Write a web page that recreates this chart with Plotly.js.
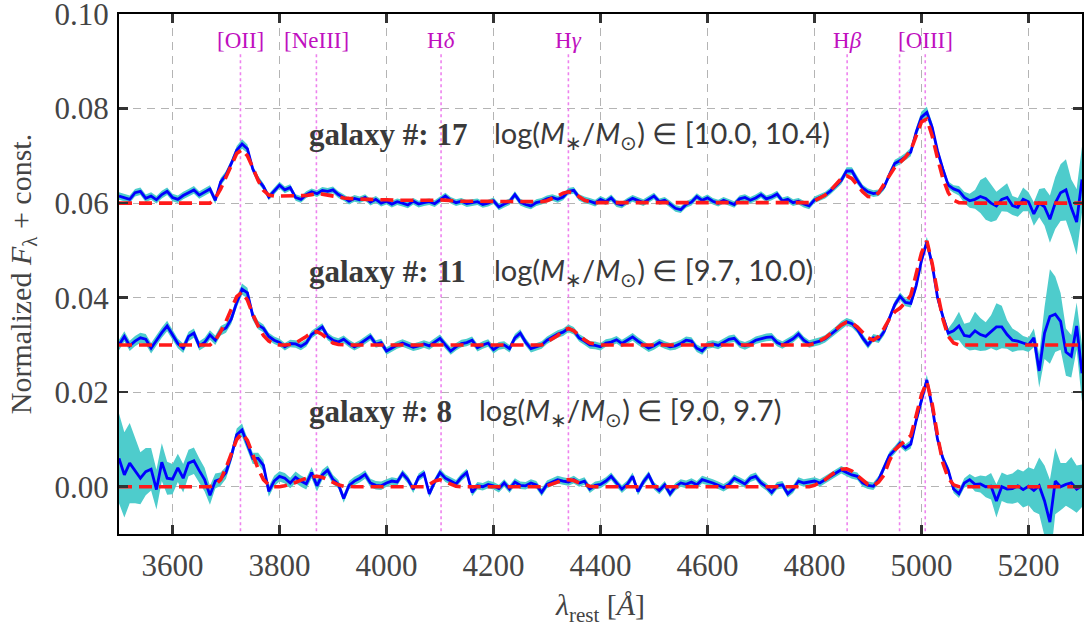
<!DOCTYPE html>
<html>
<head>
<meta charset="utf-8">
<script src="https://cdn.plot.ly/plotly-3.0.1.min.js"></script>
<style>html,body{margin:0;padding:0;background:#fff;}#chart{width:1086px;height:630px;}</style>
</head>
<body>
<div id="chart"></div>
<script>
// Rest-frame wavelength grid [Å]
const wavelength = [
3500,3510,3520,3530,3540,3550,3560,3570,3580,3590,
3600,3610,3620,3630,3640,3650,3660,3670,3680,3690,
3700,3710,3720,3730,3740,3750,3760,3770,3780,3790,
3800,3810,3820,3830,3840,3850,3860,3870,3880,3890,
3900,3910,3920,3930,3940,3950,3960,3970,3980,3990,
4000,4010,4020,4030,4040,4050,4060,4070,4080,4090,
4100,4110,4120,4130,4140,4150,4160,4170,4180,4190,
4200,4210,4220,4230,4240,4250,4260,4270,4280,4290,
4300,4310,4320,4330,4340,4350,4360,4370,4380,4390,
4400,4410,4420,4430,4440,4450,4460,4470,4480,4490,
4500,4510,4520,4530,4540,4550,4560,4570,4580,4590,
4600,4610,4620,4630,4640,4650,4660,4670,4680,4690,
4700,4710,4720,4730,4740,4750,4760,4770,4780,4790,
4800,4810,4820,4830,4840,4850,4860,4870,4880,4890,
4900,4910,4920,4930,4940,4950,4960,4970,4980,4990,
5000,5010,5020,5030,5040,5050,5060,5070,5080,5090,
5100,5110,5120,5130,5140,5150,5160,5170,5180,5190,
5200,5210,5220,5230,5240,5250,5260,5270,5280,5290,
5300];

// galaxy #17 (offset +0.06)
const flux17 = [
0.0615,0.0612,0.0608,0.0622,0.0625,0.0610,0.0615,0.0607,0.0618,0.0625,
0.0612,0.0608,0.0616,0.0622,0.0628,0.0617,0.0624,0.0630,0.0606,0.0645,
0.0660,0.0684,0.0712,0.0725,0.0715,0.0672,0.0650,0.0635,0.0613,0.0625,
0.0638,0.0628,0.0633,0.0612,0.0608,0.0618,0.0624,0.0620,0.0627,0.0625,
0.0628,0.0618,0.0612,0.0604,0.0610,0.0607,0.0612,0.0602,0.0608,0.0600,
0.0604,0.0598,0.0603,0.0600,0.0596,0.0604,0.0598,0.0601,0.0603,0.0599,
0.0608,0.0615,0.0606,0.0601,0.0604,0.0599,0.0601,0.0603,0.0597,0.0600,
0.0605,0.0592,0.0598,0.0603,0.0618,0.0602,0.0597,0.0594,0.0601,0.0604,
0.0609,0.0612,0.0608,0.0613,0.0625,0.0627,0.0612,0.0607,0.0604,0.0600,
0.0608,0.0603,0.0611,0.0599,0.0596,0.0604,0.0610,0.0605,0.0601,0.0608,
0.0615,0.0603,0.0606,0.0598,0.0589,0.0586,0.0597,0.0602,0.0614,0.0606,
0.0611,0.0604,0.0600,0.0606,0.0602,0.0597,0.0609,0.0612,0.0606,0.0611,
0.0618,0.0609,0.0613,0.0619,0.0605,0.0608,0.0601,0.0604,0.0598,0.0594,
0.0607,0.0612,0.0617,0.0626,0.0636,0.0648,0.0668,0.0668,0.0648,0.0632,
0.0624,0.0620,0.0622,0.0634,0.0660,0.0684,0.0690,0.0698,0.0708,0.0750,
0.0782,0.0792,0.0760,0.0710,0.0672,0.0638,0.0630,0.0626,0.0612,0.0605,
0.0608,0.0614,0.0610,0.0600,0.0594,0.0608,0.0612,0.0595,0.0591,0.0608,
0.0603,0.0577,0.0600,0.0592,0.0566,0.0600,0.0622,0.0628,0.0590,0.0560,
0.0650];
const err17 = [
0.0008,0.0008,0.0008,0.0008,0.0008,0.0008,0.0008,0.0008,0.0008,0.0008,
0.0008,0.0008,0.0008,0.0008,0.0008,0.0008,0.0008,0.0008,0.0008,0.0008,
0.0008,0.0008,0.0009,0.0010,0.0009,0.0008,0.0008,0.0007,0.0007,0.0007,
0.0007,0.0007,0.0007,0.0007,0.0007,0.0007,0.0007,0.0007,0.0007,0.0007,
0.0007,0.0007,0.0007,0.0007,0.0007,0.0007,0.0007,0.0007,0.0007,0.0007,
0.0007,0.0007,0.0007,0.0007,0.0007,0.0007,0.0007,0.0007,0.0007,0.0007,
0.0007,0.0007,0.0007,0.0007,0.0007,0.0007,0.0007,0.0007,0.0007,0.0007,
0.0007,0.0007,0.0007,0.0007,0.0007,0.0007,0.0007,0.0007,0.0007,0.0007,
0.0007,0.0007,0.0007,0.0007,0.0007,0.0007,0.0007,0.0007,0.0007,0.0007,
0.0007,0.0007,0.0007,0.0007,0.0007,0.0007,0.0007,0.0007,0.0007,0.0007,
0.0007,0.0007,0.0007,0.0007,0.0007,0.0007,0.0007,0.0007,0.0007,0.0007,
0.0007,0.0007,0.0007,0.0007,0.0007,0.0007,0.0007,0.0007,0.0007,0.0007,
0.0007,0.0007,0.0007,0.0007,0.0007,0.0007,0.0007,0.0007,0.0007,0.0007,
0.0007,0.0007,0.0007,0.0007,0.0007,0.0008,0.0008,0.0008,0.0008,0.0007,
0.0007,0.0007,0.0007,0.0007,0.0008,0.0008,0.0008,0.0008,0.0009,0.0010,
0.0012,0.0012,0.0010,0.0009,0.0008,0.0008,0.0008,0.0010,0.0012,0.0015,
0.0020,0.0035,0.0045,0.0040,0.0030,0.0025,0.0030,0.0020,0.0020,0.0025,
0.0020,0.0025,0.0030,0.0040,0.0050,0.0055,0.0060,0.0065,0.0060,0.0070,
0.0070];
const fit17 = [
0.0600,0.0600,0.0600,0.0600,0.0600,0.0600,0.0600,0.0600,0.0600,0.0600,
0.0600,0.0600,0.0600,0.0600,0.0600,0.0600,0.0600,0.0600,0.0610,0.0630,
0.0655,0.0680,0.0705,0.0713,0.0700,0.0675,0.0648,0.0627,0.0617,0.0615,
0.0615,0.0615,0.0615,0.0615,0.0615,0.0616,0.0618,0.0620,0.0619,0.0617,
0.0614,0.0612,0.0611,0.0610,0.0609,0.0609,0.0608,0.0608,0.0607,0.0607,
0.0607,0.0606,0.0606,0.0606,0.0606,0.0605,0.0605,0.0605,0.0605,0.0606,
0.0607,0.0606,0.0605,0.0604,0.0604,0.0604,0.0604,0.0604,0.0603,0.0603,
0.0603,0.0603,0.0603,0.0603,0.0603,0.0603,0.0603,0.0603,0.0603,0.0603,
0.0605,0.0609,0.0615,0.0621,0.0624,0.0621,0.0613,0.0606,0.0603,0.0601,
0.0601,0.0601,0.0601,0.0601,0.0601,0.0601,0.0601,0.0601,0.0601,0.0601,
0.0601,0.0601,0.0601,0.0601,0.0601,0.0601,0.0601,0.0601,0.0601,0.0601,
0.0601,0.0601,0.0601,0.0601,0.0601,0.0601,0.0601,0.0601,0.0601,0.0601,
0.0601,0.0601,0.0601,0.0601,0.0601,0.0601,0.0601,0.0601,0.0601,0.0601,
0.0605,0.0610,0.0617,0.0627,0.0640,0.0652,0.0658,0.0652,0.0638,0.0624,
0.0614,0.0613,0.0622,0.0640,0.0660,0.0676,0.0686,0.0697,0.0712,0.0740,
0.0772,0.0778,0.0742,0.0695,0.0652,0.0622,0.0606,0.0601,0.0600,0.0600,
0.0600,0.0600,0.0600,0.0600,0.0600,0.0600,0.0600,0.0600,0.0600,0.0600,
0.0600,0.0600,0.0600,0.0600,0.0600,0.0600,0.0600,0.0600,0.0600,0.0600,
0.0600];

// galaxy #11 (offset +0.03)
const flux11 = [
0.0300,0.0318,0.0298,0.0308,0.0315,0.0312,0.0293,0.0310,0.0326,0.0340,
0.0322,0.0303,0.0293,0.0318,0.0325,0.0298,0.0305,0.0321,0.0310,0.0330,
0.0336,0.0355,0.0390,0.0418,0.0410,0.0362,0.0342,0.0335,0.0318,0.0310,
0.0305,0.0296,0.0303,0.0302,0.0297,0.0304,0.0322,0.0330,0.0338,0.0318,
0.0310,0.0306,0.0312,0.0303,0.0296,0.0302,0.0310,0.0318,0.0302,0.0305,
0.0287,0.0293,0.0300,0.0304,0.0300,0.0295,0.0298,0.0302,0.0298,0.0306,
0.0314,0.0300,0.0287,0.0296,0.0303,0.0305,0.0310,0.0294,0.0300,0.0304,
0.0290,0.0298,0.0300,0.0292,0.0315,0.0325,0.0306,0.0292,0.0296,0.0300,
0.0310,0.0316,0.0323,0.0327,0.0335,0.0330,0.0315,0.0308,0.0300,0.0299,
0.0296,0.0304,0.0306,0.0311,0.0303,0.0310,0.0317,0.0308,0.0300,0.0293,
0.0298,0.0305,0.0300,0.0296,0.0298,0.0303,0.0310,0.0308,0.0293,0.0287,
0.0300,0.0302,0.0299,0.0306,0.0312,0.0314,0.0302,0.0298,0.0303,0.0310,
0.0313,0.0316,0.0317,0.0305,0.0300,0.0306,0.0313,0.0323,0.0310,0.0302,
0.0305,0.0308,0.0313,0.0322,0.0331,0.0342,0.0349,0.0345,0.0333,0.0315,
0.0300,0.0315,0.0312,0.0328,0.0355,0.0385,0.0403,0.0390,0.0388,0.0425,
0.0479,0.0518,0.0470,0.0400,0.0360,0.0325,0.0330,0.0340,0.0320,0.0318,
0.0330,0.0322,0.0318,0.0328,0.0338,0.0338,0.0322,0.0310,0.0308,0.0304,
0.0300,0.0315,0.0245,0.0325,0.0360,0.0365,0.0350,0.0285,0.0276,0.0340,
0.0240];
const err11 = [
0.0011,0.0011,0.0011,0.0011,0.0011,0.0011,0.0011,0.0011,0.0011,0.0011,
0.0010,0.0010,0.0010,0.0010,0.0010,0.0010,0.0010,0.0010,0.0010,0.0010,
0.0010,0.0010,0.0011,0.0012,0.0011,0.0010,0.0009,0.0008,0.0008,0.0008,
0.0008,0.0008,0.0008,0.0008,0.0008,0.0008,0.0008,0.0008,0.0008,0.0008,
0.0008,0.0008,0.0008,0.0008,0.0008,0.0008,0.0008,0.0008,0.0008,0.0008,
0.0008,0.0008,0.0008,0.0008,0.0008,0.0008,0.0008,0.0008,0.0008,0.0008,
0.0008,0.0008,0.0008,0.0008,0.0008,0.0008,0.0008,0.0008,0.0008,0.0008,
0.0008,0.0008,0.0008,0.0008,0.0008,0.0008,0.0008,0.0008,0.0008,0.0008,
0.0008,0.0008,0.0008,0.0008,0.0008,0.0008,0.0008,0.0008,0.0008,0.0008,
0.0008,0.0008,0.0008,0.0008,0.0008,0.0008,0.0008,0.0008,0.0008,0.0008,
0.0008,0.0008,0.0008,0.0008,0.0008,0.0008,0.0008,0.0008,0.0008,0.0008,
0.0008,0.0008,0.0008,0.0008,0.0008,0.0008,0.0008,0.0008,0.0008,0.0008,
0.0008,0.0008,0.0008,0.0008,0.0008,0.0008,0.0008,0.0008,0.0008,0.0008,
0.0008,0.0008,0.0008,0.0008,0.0008,0.0008,0.0008,0.0008,0.0008,0.0008,
0.0008,0.0008,0.0008,0.0008,0.0008,0.0008,0.0008,0.0008,0.0009,0.0009,
0.0010,0.0011,0.0010,0.0009,0.0009,0.0010,0.0020,0.0030,0.0025,0.0030,
0.0040,0.0035,0.0030,0.0035,0.0050,0.0045,0.0030,0.0025,0.0020,0.0015,
0.0015,0.0020,0.0035,0.0055,0.0100,0.0080,0.0060,0.0050,0.0045,0.0050,
0.0060];
const fit11 = [
0.0300,0.0300,0.0300,0.0300,0.0300,0.0300,0.0300,0.0300,0.0300,0.0300,
0.0300,0.0300,0.0300,0.0300,0.0300,0.0300,0.0300,0.0300,0.0310,0.0328,
0.0350,0.0378,0.0402,0.0412,0.0395,0.0365,0.0340,0.0320,0.0308,0.0302,
0.0300,0.0300,0.0301,0.0304,0.0310,0.0318,0.0326,0.0328,0.0322,0.0312,
0.0304,0.0301,0.0300,0.0300,0.0300,0.0300,0.0300,0.0300,0.0300,0.0300,
0.0300,0.0300,0.0300,0.0300,0.0300,0.0300,0.0300,0.0300,0.0300,0.0300,
0.0301,0.0301,0.0300,0.0300,0.0300,0.0300,0.0300,0.0300,0.0300,0.0300,
0.0300,0.0300,0.0300,0.0300,0.0300,0.0300,0.0300,0.0300,0.0300,0.0300,
0.0306,0.0312,0.0320,0.0330,0.0335,0.0330,0.0320,0.0311,0.0304,0.0301,
0.0300,0.0300,0.0300,0.0300,0.0300,0.0300,0.0300,0.0300,0.0300,0.0300,
0.0300,0.0300,0.0300,0.0300,0.0300,0.0300,0.0300,0.0300,0.0300,0.0300,
0.0300,0.0300,0.0300,0.0300,0.0300,0.0300,0.0300,0.0300,0.0300,0.0300,
0.0300,0.0300,0.0300,0.0300,0.0300,0.0300,0.0300,0.0300,0.0300,0.0300,
0.0303,0.0308,0.0315,0.0324,0.0333,0.0342,0.0348,0.0346,0.0338,0.0326,
0.0315,0.0310,0.0318,0.0335,0.0355,0.0370,0.0378,0.0390,0.0405,0.0450,
0.0495,0.0520,0.0472,0.0410,0.0355,0.0318,0.0304,0.0300,0.0300,0.0300,
0.0300,0.0300,0.0300,0.0300,0.0300,0.0300,0.0300,0.0300,0.0300,0.0300,
0.0300,0.0300,0.0300,0.0300,0.0300,0.0300,0.0300,0.0300,0.0300,0.0300,
0.0300];

// galaxy #8 (offset 0)
const flux8 = [
0.0060,0.0025,0.0050,0.0035,0.0018,0.0032,0.0037,-0.0006,0.0052,0.0018,
0.0016,0.0040,0.0018,0.0050,0.0055,0.0034,0.0015,-0.0018,0.0012,0.0016,
0.0030,0.0065,0.0110,0.0120,0.0090,0.0060,0.0060,0.0045,-0.0010,0.0012,
0.0022,0.0018,0.0008,0.0020,0.0012,0.0006,0.0030,0.0002,0.0025,0.0035,
0.0015,0.0005,-0.0025,0.0003,0.0012,0.0018,0.0026,0.0008,0.0003,0.0002,
0.0008,0.0012,0.0010,0.0028,0.0015,-0.0005,0.0020,0.0028,-0.0015,0.0010,
0.0030,0.0018,0.0012,0.0006,0.0020,0.0030,-0.0012,0.0002,0.0000,0.0005,
0.0002,-0.0004,0.0008,-0.0005,0.0010,0.0003,0.0002,0.0008,0.0004,-0.0012,
0.0005,0.0010,0.0015,0.0012,0.0010,0.0015,0.0008,0.0012,-0.0005,0.0003,
0.0005,0.0012,0.0022,0.0008,-0.0005,0.0005,0.0022,-0.0010,0.0010,0.0025,
0.0002,-0.0008,0.0004,-0.0015,0.0000,0.0008,0.0005,0.0010,0.0004,0.0015,
0.0012,0.0008,0.0003,-0.0002,0.0005,0.0018,0.0012,0.0006,0.0018,0.0022,
0.0008,0.0000,-0.0012,0.0002,0.0004,-0.0015,-0.0005,0.0012,0.0008,0.0010,
0.0012,0.0008,0.0015,0.0022,0.0028,0.0036,0.0030,0.0025,0.0022,0.0008,
0.0003,0.0001,0.0015,0.0040,0.0066,0.0078,0.0092,0.0082,0.0090,0.0140,
0.0184,0.0226,0.0168,0.0100,0.0060,0.0035,-0.0005,-0.0015,0.0008,0.0015,
0.0005,0.0006,0.0000,0.0001,-0.0030,0.0000,-0.0005,-0.0004,0.0002,-0.0006,
0.0001,-0.0008,0.0002,-0.0030,-0.0075,0.0012,0.0000,0.0005,0.0008,-0.0005,
0.0002];
const err8 = [
0.0095,0.0090,0.0085,0.0070,0.0055,0.0050,0.0045,0.0042,0.0040,0.0035,
0.0032,0.0030,0.0030,0.0028,0.0028,0.0026,0.0025,0.0020,0.0016,0.0014,
0.0013,0.0012,0.0013,0.0014,0.0013,0.0012,0.0012,0.0012,0.0011,0.0011,
0.0011,0.0011,0.0011,0.0012,0.0012,0.0012,0.0012,0.0012,0.0011,0.0010,
0.0010,0.0009,0.0009,0.0009,0.0009,0.0009,0.0009,0.0009,0.0009,0.0009,
0.0008,0.0008,0.0008,0.0008,0.0008,0.0008,0.0008,0.0008,0.0008,0.0008,
0.0008,0.0008,0.0008,0.0008,0.0008,0.0008,0.0008,0.0008,0.0008,0.0008,
0.0008,0.0008,0.0008,0.0008,0.0008,0.0008,0.0008,0.0008,0.0008,0.0008,
0.0008,0.0008,0.0008,0.0008,0.0008,0.0008,0.0008,0.0008,0.0008,0.0008,
0.0008,0.0008,0.0008,0.0008,0.0008,0.0008,0.0008,0.0008,0.0008,0.0008,
0.0008,0.0008,0.0008,0.0008,0.0008,0.0008,0.0008,0.0008,0.0008,0.0008,
0.0008,0.0008,0.0008,0.0008,0.0008,0.0008,0.0008,0.0008,0.0008,0.0008,
0.0008,0.0008,0.0008,0.0008,0.0008,0.0008,0.0008,0.0008,0.0008,0.0008,
0.0008,0.0008,0.0008,0.0008,0.0008,0.0008,0.0008,0.0008,0.0008,0.0008,
0.0008,0.0008,0.0008,0.0008,0.0008,0.0008,0.0008,0.0008,0.0009,0.0010,
0.0011,0.0011,0.0010,0.0009,0.0008,0.0008,0.0008,0.0009,0.0010,0.0012,
0.0015,0.0018,0.0022,0.0028,0.0035,0.0030,0.0030,0.0032,0.0035,0.0038,
0.0040,0.0045,0.0060,0.0075,0.0090,0.0070,0.0050,0.0045,0.0055,0.0050,
0.0045];
const fit8 = [
0.0000,0.0000,0.0000,0.0000,0.0000,0.0000,0.0000,0.0000,0.0000,0.0000,
0.0000,0.0000,0.0000,0.0000,0.0000,0.0000,0.0000,0.0000,0.0004,0.0015,
0.0040,0.0070,0.0100,0.0113,0.0098,0.0068,0.0038,0.0015,0.0004,0.0000,
0.0000,0.0002,0.0005,0.0009,0.0014,0.0018,0.0021,0.0022,0.0020,0.0015,
0.0009,0.0004,0.0001,0.0000,0.0000,0.0000,0.0000,0.0000,0.0000,0.0000,
0.0000,0.0000,0.0000,0.0000,0.0000,0.0000,0.0000,0.0000,0.0005,0.0012,
0.0015,0.0011,0.0005,0.0001,0.0000,0.0000,0.0000,0.0000,0.0000,0.0000,
0.0000,0.0000,0.0000,0.0000,0.0000,0.0000,0.0000,0.0000,0.0000,0.0000,
0.0002,0.0006,0.0011,0.0014,0.0015,0.0013,0.0008,0.0004,0.0001,0.0000,
0.0000,0.0000,0.0000,0.0000,0.0000,0.0000,0.0000,0.0000,0.0000,0.0000,
0.0000,0.0000,0.0000,0.0000,0.0000,0.0000,0.0000,0.0000,0.0000,0.0000,
0.0000,0.0000,0.0000,0.0000,0.0000,0.0000,0.0000,0.0000,0.0000,0.0000,
0.0000,0.0000,0.0000,0.0000,0.0000,0.0000,0.0000,0.0000,0.0000,0.0000,
0.0003,0.0008,0.0015,0.0024,0.0032,0.0037,0.0038,0.0033,0.0024,0.0013,
0.0005,0.0002,0.0010,0.0025,0.0055,0.0078,0.0088,0.0096,0.0108,0.0150,
0.0195,0.0222,0.0175,0.0108,0.0050,0.0018,0.0004,0.0000,0.0000,0.0000,
0.0000,0.0000,0.0000,0.0000,0.0000,0.0000,0.0000,0.0000,0.0000,0.0000,
0.0000,0.0000,0.0000,0.0000,0.0000,0.0000,0.0000,0.0000,0.0000,0.0000,
0.0000];

// Emission lines
const lineWave = [3727, 3869, 4102, 4340, 4861, 4959, 5007];
const labelWave = [3727, 3869, 4102, 4340, 4861, 5007];
const labelText = ['[OII]', '[NeIII]', 'H<i>δ</i>', 'H<i>γ</i>', 'H<i>β</i>', '[OIII]'];

// Galaxy annotations
const galaxyIds = ['17', '11', '8'];
const massRanges = ['[10.0, 10.4)', '[9.7, 10.0)', '[9.0, 9.7)'];

const xTicks = [3600, 3800, 4000, 4200, 4400, 4600, 4800, 5000, 5200];
const yTicks = [0.00, 0.02, 0.04, 0.06, 0.08, 0.10];

const SERIF = 'Times New Roman';
const SANS = 'Lato';

const traces = [];
// dotted emission-line markers
const lx = [], ly = [];
lineWave.forEach(w => { lx.push(w, w, null); ly.push(0.0915, -0.01, null); });
traces.push({x: lx, y: ly, mode: 'lines', line: {color: '#ee82ee', width: 1.6, dash: 'dot'}, hoverinfo: 'skip'});

const spectra = [[flux17, err17, fit17], [flux11, err11, fit11], [flux8, err8, fit8]];
spectra.forEach(([f, e]) => {
  traces.push({x: wavelength, y: f.map((v, i) => v - e[i]), mode: 'lines', line: {width: 0, color: 'rgba(0,0,0,0)'}, hoverinfo: 'skip'});
  traces.push({x: wavelength, y: f.map((v, i) => v + e[i]), mode: 'lines', line: {width: 0, color: 'rgba(0,0,0,0)'}, fill: 'tonexty', fillcolor: 'rgb(78,204,204)', hoverinfo: 'skip'});
});
spectra.forEach(([f]) => {
  traces.push({x: wavelength, y: f, mode: 'lines', line: {color: '#0000ff', width: 2.8}});
});
spectra.forEach(([, , m]) => {
  traces.push({x: wavelength, y: m, mode: 'lines', line: {color: '#ff1a1a', width: 3.6, dash: '13px,7px'}});
});

const annotations = [];
labelWave.forEach((w, i) => {
  annotations.push({x: w, y: 0.0945, text: labelText[i], showarrow: false,
    font: {family: SERIF, size: 23, color: '#c010c0'}});
});
const galY = [0.0745, 0.0455, 0.0160];
const logX = [4197, 4197, 4170];
galaxyIds.forEach((g, i) => {
  annotations.push({x: 3851, y: galY[i], xanchor: 'left', showarrow: false,
    text: '<b>galaxy #: ' + g + '</b>', font: {family: SERIF, size: 31, color: '#3a3a3a'}});
  annotations.push({x: logX[i], y: galY[i], xanchor: 'left', showarrow: false,
    text: 'log(<i>M</i><sub>∗</sub>/<i>M</i><sub>⊙</sub>) ∈ ' + massRanges[i], font: {family: SANS, size: 29, color: '#3a3a3a'}});
});

const layout = {
  width: 1086, height: 630,
  margin: {l: 119, r: 4, t: 14, b: 96},
  showlegend: false,
  xaxis: {
    range: [3500, 5300], tickvals: xTicks,
    tickfont: {family: SERIF, size: 31, color: '#444'},
    showline: true, linecolor: '#000', linewidth: 2, mirror: 'ticks',
    ticks: 'inside', ticklen: 9, tickwidth: 2.5, tickcolor: '#333',
    showgrid: true, gridcolor: '#b4b4b4', gridwidth: 1.2, griddash: '8px,6px', zeroline: false,
    ticklabelstandoff: 3,
    title: {text: '<i>λ</i><sub>rest</sub> [<i>Å</i>]', font: {family: SERIF, size: 30, color: '#444'}, standoff: 12}
  },
  yaxis: {
    range: [-0.01, 0.10001], tickvals: yTicks, tickformat: '.2f',
    tickfont: {family: SERIF, size: 31, color: '#444'},
    showline: true, linecolor: '#000', linewidth: 2, mirror: 'ticks',
    ticks: 'inside', ticklen: 9, tickwidth: 2.5, tickcolor: '#333',
    showgrid: true, gridcolor: '#b4b4b4', gridwidth: 1.2, griddash: '8px,6px', zeroline: false,
    ticklabelstandoff: 2, ticklabeloverflow: 'allow',
    title: {text: 'Normalized <i>F</i><sub>λ</sub> + const.', font: {family: SERIF, size: 30, color: '#444'}, standoff: 14}
  },
  annotations: annotations
};

Plotly.newPlot('chart', traces, layout, {displayModeBar: false, staticPlot: true});
</script>
</body>
</html>
